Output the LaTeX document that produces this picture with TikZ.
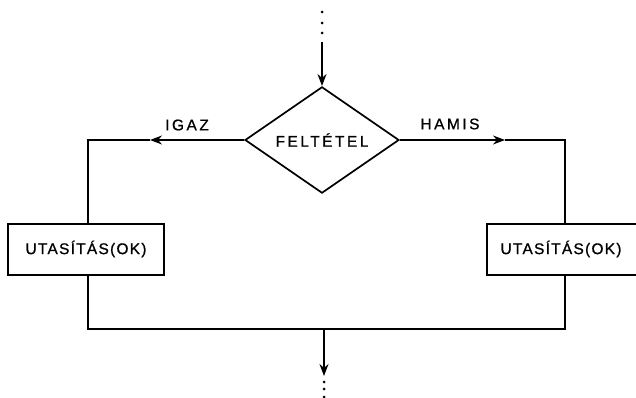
\documentclass[tikz,border=0pt]{standalone}
\usepackage{fontspec}
\setmainfont{Liberation Sans}
\newfontfamily\labfont[LetterSpace=16,FakeBold=0.8]{Liberation Sans}
\newfontfamily\boxfont[LetterSpace=8,FakeBold=0.8]{Liberation Sans}
\usetikzlibrary{shapes.geometric,arrows.meta}
\begin{document}
\begin{tikzpicture}[x=1pt,y=-1pt,
  lab/.style={font=\labfont\fontsize{15.5}{18}\selectfont, inner sep=0pt},
  conn/.style={line width=1.1pt},
  arr/.style={conn,-{Stealth[length=12pt,width=9pt]}},
  stmt/.style={draw,line width=2pt,minimum width=156pt,minimum height=51pt,inner sep=0pt,font=\boxfont\fontsize{15.5}{18}\selectfont},
  cond/.style={draw,diamond,line width=1.7pt,minimum width=154pt,minimum height=101pt,inner sep=0pt,font=\labfont\fontsize{15.5}{18}\selectfont},
  dot/.style={circle,fill,inner sep=0pt,minimum size=3pt}]
\useasboundingbox (0,0) rectangle (636,398);
\fill[white] (0,0) rectangle (636,398);
% top dots
\node[dot] (t1) at (322,12) {};
\node[dot] (t2) at (322,23) {};
\node[dot] (t3) at (322,33) {};
\coordinate (tin) at (322,42);
% decision
\node[cond] (d) at (322,140) {FELTÉTEL};
\draw[arr] (tin) -- (d.north);
% statement boxes
\node[stmt] (l) at (86,249) {UTASÍTÁS(OK)};
\node[stmt] (r) at (565,249) {\hspace{-8pt}UTASÍTÁS(OK)};
% left branch
\coordinate (la) at (150,140);
\coordinate (lc) at (88,140);
\draw[arr] (d.west) -- (la);
\draw[conn] (la) -- (lc) -- (l.north -| lc);
\node[lab] (igaz) at (187,125) {IGAZ};
% right branch
\coordinate (ra) at (505,140);
\coordinate (rc) at (565,140);
\draw[arr] (d.east) -- (ra);
\draw[conn] (ra) -- (rc) -- (r.north);
\node[lab] (hamis) at (450,124) {HAMIS};
% join
\coordinate (jl) at (88,329);
\coordinate (jr) at (565,329);
\coordinate (jm) at (324,329);
\coordinate (jout) at (324,376);
\draw[conn] (l.south -| jl) -- (jl) -- (jr) -- (r.south);
\draw[arr] (jm) -- (jout);
\node[dot] (b1) at (324,382) {};
\node[dot] (b2) at (324,389) {};
\node[dot] (b3) at (324,397) {};
\end{tikzpicture}
\end{document}
